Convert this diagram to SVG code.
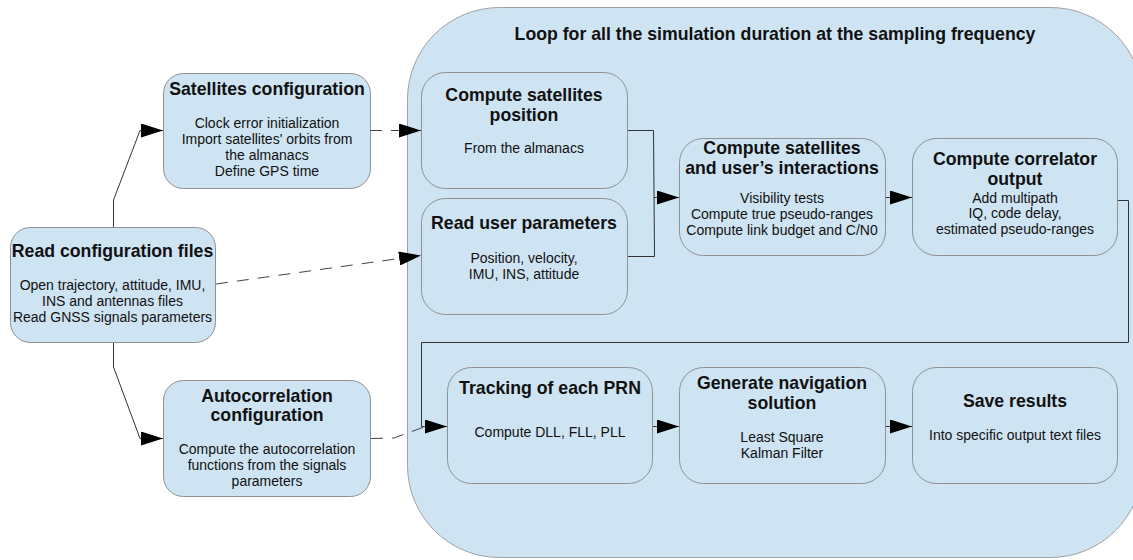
<svg xmlns="http://www.w3.org/2000/svg" width="1133" height="560" viewBox="0 0 1133 560">
<defs>
<marker id="ah" viewBox="0 0 22 14" refX="22" refY="7" markerWidth="22" markerHeight="14" markerUnits="userSpaceOnUse" orient="auto"><path d="M0,0 L22,7 L0,14 z" fill="#000"/></marker>
</defs>
<style>
.box{fill:#cfe4f3;stroke:#909090;stroke-width:1}
.loop{fill:#cfe4f3;stroke:#a0a0a0;stroke-width:1}
text{font-family:"Liberation Sans",Arial,sans-serif;fill:#111;text-anchor:middle}
.t{font-size:17.7px;font-weight:bold}
.b{font-size:14px}
.c{fill:none;stroke:#333;stroke-width:1}
.d{fill:none;stroke:#444;stroke-width:1;stroke-dasharray:12 9}
</style>
<rect width="1133" height="560" fill="#fff"/>
<g id="loop">
<rect class="loop" x="407.5" y="7.5" width="735" height="550" rx="92" ry="92"/>
<text class="t" x="775" y="40">Loop for all the simulation duration at the sampling frequency</text>
</g>
<g id="read-config">
<rect class="box" x="10.5" y="227.5" width="205" height="115" rx="20"/>
<text class="t" x="112.5" y="257">Read configuration files</text>
<text class="b" x="112.5" y="290">Open trajectory, attitude, IMU,</text>
<text class="b" x="112.5" y="306">INS and antennas files</text>
<text class="b" x="112.5" y="322">Read GNSS signals parameters</text>
</g>
<g id="sat-config">
<rect class="box" x="163.5" y="73.5" width="207" height="115" rx="20"/>
<text class="t" x="267" y="95">Satellites configuration</text>
<text class="b" x="267" y="128">Clock error initialization</text>
<text class="b" x="267" y="144">Import satellites' orbits from</text>
<text class="b" x="267" y="160">the almanacs</text>
<text class="b" x="267" y="176">Define GPS time</text>
</g>
<g id="autocorr-config">
<rect class="box" x="163.5" y="380.5" width="207" height="116" rx="20"/>
<text class="t" x="267" y="402">Autocorrelation</text>
<text class="t" x="267" y="421">configuration</text>
<text class="b" x="267" y="454">Compute the autocorrelation</text>
<text class="b" x="267" y="470">functions from the signals</text>
<text class="b" x="267" y="486">parameters</text>
</g>
<g id="sat-position">
<rect class="box" x="421.5" y="72.5" width="206" height="116" rx="24"/>
<text class="t" x="524" y="101">Compute satellites</text>
<text class="t" x="524" y="121">position</text>
<text class="b" x="524" y="153">From the almanacs</text>
</g>
<g id="user-params">
<rect class="box" x="421.5" y="198.5" width="206" height="116" rx="24"/>
<text class="t" x="524" y="229">Read user parameters</text>
<text class="b" x="524" y="263">Position, velocity,</text>
<text class="b" x="524" y="279">IMU, INS, attitude</text>
</g>
<g id="interactions">
<rect class="box" x="679.5" y="138.5" width="206" height="117" rx="24"/>
<text class="t" x="782" y="154">Compute satellites</text>
<text class="t" x="782" y="174">and user’s interactions</text>
<text class="b" x="782" y="203">Visibility tests</text>
<text class="b" x="782" y="219">Compute true pseudo-ranges</text>
<text class="b" x="782" y="235">Compute link budget and C/N0</text>
</g>
<g id="correlator">
<rect class="box" x="912.5" y="138.5" width="205" height="117" rx="24"/>
<text class="t" x="1015" y="165">Compute correlator</text>
<text class="t" x="1015" y="185">output</text>
<text class="b" x="1015" y="203">Add multipath</text>
<text class="b" x="1015" y="218">IQ, code delay,</text>
<text class="b" x="1015" y="234">estimated pseudo-ranges</text>
</g>
<g id="tracking">
<rect class="box" x="447.5" y="367.5" width="205" height="116" rx="24"/>
<text class="t" x="550" y="394">Tracking of each PRN</text>
<text class="b" x="550" y="437">Compute DLL, FLL, PLL</text>
</g>
<g id="navigation">
<rect class="box" x="679.5" y="367.5" width="206" height="116" rx="24"/>
<text class="t" x="782" y="389">Generate navigation</text>
<text class="t" x="782" y="409">solution</text>
<text class="b" x="782" y="442">Least Square</text>
<text class="b" x="782" y="458">Kalman Filter</text>
</g>
<g id="save">
<rect class="box" x="912.5" y="367.5" width="205" height="116" rx="24"/>
<text class="t" x="1015" y="407">Save results</text>
<text class="b" x="1015" y="440">Into specific output text files</text>
</g>
<g id="connectors">
<path class="c" d="M113.5,227 L113.5,200 L140,130.5 L163,130.5" marker-end="url(#ah)"/>
<path class="c" d="M113.5,343 L113.5,367 L140,438.5 L163,438.5" marker-end="url(#ah)"/>
<path class="d" d="M370,130.5 L421,130.5" marker-end="url(#ah)"/>
<path class="d" d="M216,284 L421,255.5" marker-end="url(#ah)"/>
<path class="d" d="M371,438.5 L394,438 L424,427"/>
<path class="c" d="M628,130.5 L653.5,130.5 L654.5,256.5 L628,256.5"/>
<path class="c" d="M654,197.5 L679,197.5" marker-end="url(#ah)"/>
<path class="c" d="M886,197.5 L912,197.5" marker-end="url(#ah)"/>
<path class="c" d="M1118,200.5 L1128.5,200.5 L1128.5,342.5 L421.5,342.5 L421.5,426.5 L447,426.5" marker-end="url(#ah)"/>
<path class="c" d="M653,426.5 L679,426.5" marker-end="url(#ah)"/>
<path class="c" d="M886,426.5 L912,426.5" marker-end="url(#ah)"/>
</g>
</svg>
